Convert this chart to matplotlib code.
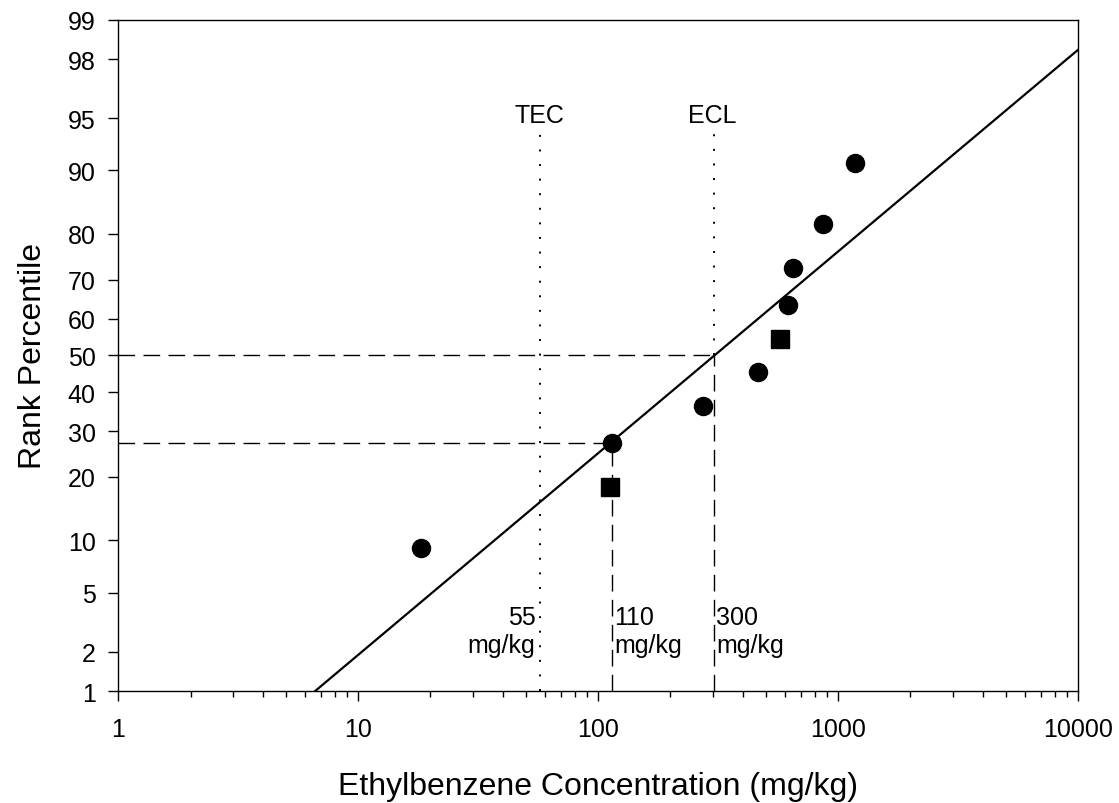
import matplotlib
matplotlib.use('Agg')
import matplotlib.pyplot as plt
import numpy as np
from statistics import NormalDist

plt.rcParams['font.family'] = ['Liberation Sans', 'DejaVu Sans']

# measured points (circles and squares), concentration in mg/kg and rank percentile
conc_circles = [18.3, 114, 274, 464, 619, 649, 866, 1177]
pct_circles = [9.1, 27.3, 36.4, 45.5, 63.6, 72.7, 81.8, 90.9]
conc_squares = [112, 573]
pct_squares = [18.2, 54.5]

tec = 57.0            # dotted TEC line
low_conc = 114        # point used for the lower dashed guide
low_pct = 27.3
ecl_pct = 50

ytick_vals = [1, 2, 5, 10, 20, 30, 40, 50, 60, 70, 80, 90, 95, 98, 99]
xtick_vals = [1, 10, 100, 1000, 10000]

_nd = NormalDist()


def pct_to_z(p):
    p = np.clip(np.asarray(p, dtype=float) / 100.0, 1e-9, 1 - 1e-9)
    p = np.where(np.isnan(p), 0.5, p)
    return np.vectorize(_nd.inv_cdf, otypes=[float])(p)


def z_to_pct(z):
    z = np.asarray(z, dtype=float)
    z = np.where(np.isnan(z), 0.0, z)
    return 100.0 * np.vectorize(_nd.cdf, otypes=[float])(z)


# regression of normal score on log concentration
all_conc = np.array(conc_circles + conc_squares)
all_pct = np.array(pct_circles + pct_squares)
slope, inter = np.polyfit(np.log10(all_conc), pct_to_z(all_pct), 1)
x50 = 10 ** ((pct_to_z(ecl_pct) - inter) / slope)

fig = plt.figure(figsize=(11.19, 8.04), dpi=100)
ax = fig.add_axes([0.1057, 0.1389, 0.8577, 0.8354])
ax.set_xscale('log')
ax.set_yscale('function', functions=(pct_to_z, z_to_pct))
ax.set_xlim(1, 10000)
ax.set_ylim(1, 99)

# fit line
xfit = np.array([1.0, 10000.0])
ax.plot(xfit, z_to_pct(inter + slope * np.log10(xfit)), color='black', lw=1.6, zorder=3)

# dashed guides
dash = (0, (12, 6))
ax.plot([1, x50], [ecl_pct, ecl_pct], color='black', lw=1, linestyle=dash)
ax.plot([x50, x50], [1, ecl_pct], color='black', lw=1, linestyle=dash)
ax.plot([1, low_conc], [low_pct, low_pct], color='black', lw=1, linestyle=dash)
ax.plot([low_conc, low_conc], [1, low_pct], color='black', lw=1, linestyle=dash)

# dotted TEC / ECL lines
dot = (0, (1, 6.5))
ax.plot([tec, tec], [1, 94.2], color='black', lw=1.4, linestyle=dot)
ax.plot([x50, x50], [ecl_pct, 94.2], color='black', lw=1.4, linestyle=dot)
ax.text(tec, 94.7, 'TEC', ha='center', va='baseline', fontsize=18)
ax.text(x50 * 0.98, 94.7, 'ECL', ha='center', va='baseline', fontsize=18)

# points
ax.plot(conc_circles, pct_circles, 'o', color='black', markersize=13, zorder=4)
ax.plot(conc_squares, pct_squares, 's', color='black', markersize=13.5, zorder=4)

# concentration labels
ax.text(tec * 0.96, 2.8, '55\nmg/kg', ha='right', va='center', multialignment='right',
        fontsize=18, linespacing=1.2)
ax.text(low_conc * 1.02, 2.8, '110\nmg/kg', ha='left', va='center', fontsize=18, linespacing=1.2)
ax.text(x50 * 1.02, 2.8, '300\nmg/kg', ha='left', va='center', fontsize=18, linespacing=1.2)

ax.set_yticks(ytick_vals)
ax.set_yticklabels([str(v) for v in ytick_vals])
ax.yaxis.set_minor_locator(matplotlib.ticker.NullLocator())
ax.set_xticks(xtick_vals)
ax.set_xticklabels([str(v) for v in xtick_vals])

ax.tick_params(axis='both', which='major', direction='out', length=7.2, width=1,
               labelsize=18, color='black')
ax.tick_params(axis='x', which='major', pad=11)
ax.tick_params(axis='y', which='major', pad=9)
ax.tick_params(axis='x', which='minor', direction='out', length=4, width=1)
for s in ax.spines.values():
    s.set_linewidth(1)

ax.set_xlabel('Ethylbenzene Concentration (mg/kg)', fontsize=23, labelpad=22)
ax.set_ylabel('Rank Percentile', fontsize=23, labelpad=14)

fig.savefig('out.png', dpi=100)
